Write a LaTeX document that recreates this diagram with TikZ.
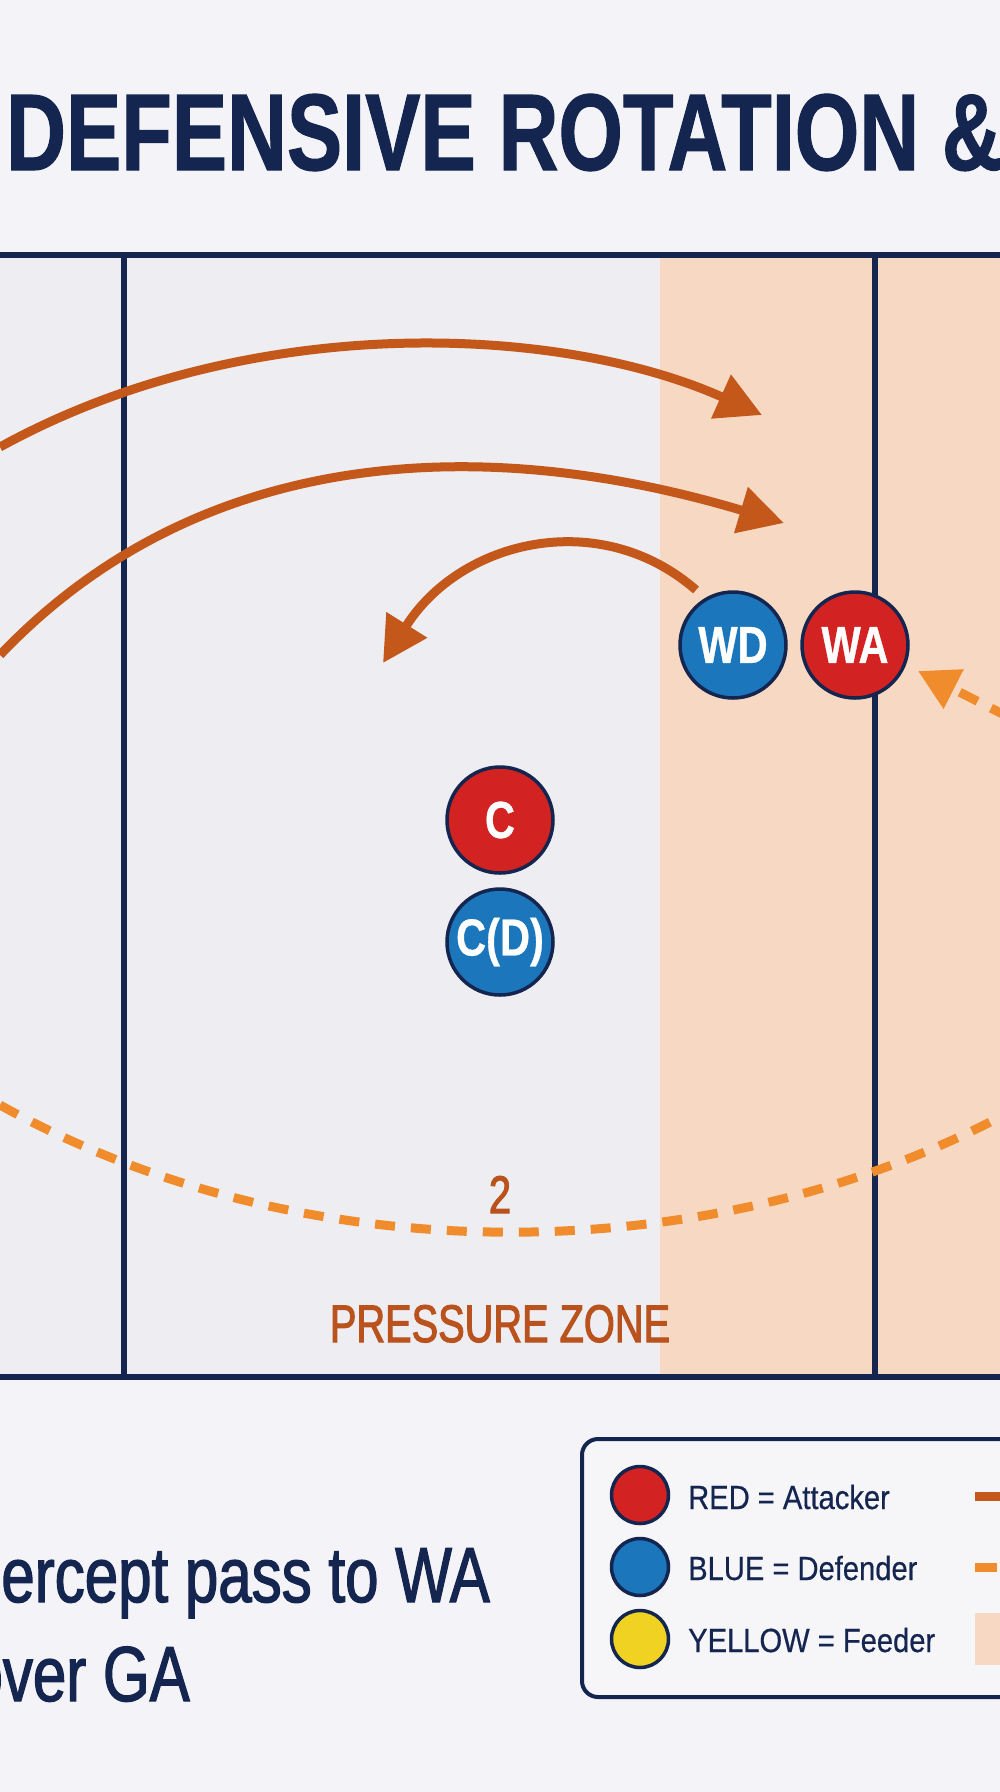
\documentclass[tikz,border=0pt]{standalone}
\usepackage{fontspec}
\setmainfont{Liberation Sans}
\newfontfamily\titlefont{Liberation Sans}[FakeStretch=0.76, FakeBold=1]
\newfontfamily\playerfont{Liberation Sans}[FakeStretch=0.8, FakeBold=0.6]
\newfontfamily\zonefont{Liberation Sans}[FakeStretch=0.75, FakeBold=2]
\newfontfamily\legendfont{Liberation Sans}[FakeStretch=0.87, FakeBold=0.5]
\newfontfamily\goalfont{Liberation Sans}[FakeStretch=0.77, FakeBold=1.6]
\usetikzlibrary{arrows.meta}
\definecolor{navy}{HTML}{14254F}
\definecolor{pagebg}{HTML}{F4F4F8}
\definecolor{courtbg}{HTML}{EDEDF2}
\definecolor{peach}{HTML}{F7D9C3}
\definecolor{pred}{HTML}{D32222}
\definecolor{pblue}{HTML}{1B76BB}
\definecolor{pyellow}{HTML}{F0D222}
\definecolor{movec}{HTML}{C4581A}
\definecolor{passc}{HTML}{F08C2C}
\definecolor{labelc}{HTML}{B9521C}
\definecolor{legendbg}{HTML}{F6F6F9}
\begin{document}
\begin{tikzpicture}[x=1pt,y=-1pt,
  courtline/.style={navy, line width=6pt},
  movearrow/.style={movec, line width=9pt, -{Triangle[length=45pt,width=46pt]}},
  passarrow/.style={passc, line width=9pt, dash pattern=on 20pt off 15pt, -{Triangle[length=40pt,width=42pt]}},
  passline/.style={passc, line width=9pt, dash pattern=on 20pt off 16pt},
  player/.style={circle, draw=navy, line width=3.5pt, minimum size=106pt, inner sep=0pt,
     text=white, font=\playerfont\bfseries\fontsize{52}{52}\selectfont},
  legdot/.style={circle, draw=navy, line width=3.5pt, minimum size=57pt, inner sep=0pt},
  legtext/.style={anchor=base west, inner sep=0pt, text=navy, font=\legendfont\fontsize{33.5}{36}\selectfont},
  goaltext/.style={anchor=base east, inner sep=0pt, text=navy, font=\goalfont\fontsize{78}{80}\selectfont}
]
\useasboundingbox (0,0) rectangle (1000,1792);
\clip (0,0) rectangle (1000,1792);
% backgrounds
\fill[pagebg] (0,0) rectangle (1000,1792);
\fill[courtbg] (-10,255) rectangle (1010,1377);
\fill[peach] (660,255) rectangle (1010,1377);
% court lines
\draw[courtline] (-10,255) -- (1010,255);
\draw[courtline] (-10,1377) -- (1010,1377);
\draw[courtline] (124,255) -- (124,1377);
\draw[courtline] (875,255) -- (875,1377);
% title
\node[anchor=base west, inner sep=0pt, text=navy, font=\titlefont\bfseries\fontsize{109}{110}\selectfont] (title) at (6,170) {DEFENSIVE ROTATION \&};
% movement arrows
\coordinate (a1s) at (0,447); \coordinate (a1e) at (762,415);
\coordinate (a2s) at (0,655); \coordinate (a2e) at (784,523);
\coordinate (a3s) at (696,590); \coordinate (a3e) at (383,663);
\draw[movearrow] (a1s) .. controls (250,309.5) and (562,325) .. (a1e);
\draw[movearrow] (a2s) .. controls (200,445) and (484,433) .. (a2e);
\draw[movearrow] (a3s) .. controls (600,506) and (460,540) .. (a3e);
% pass lines
\coordinate (p1s) at (1040,733); \coordinate (p1e) at (918,671);
\draw[passarrow] (p1s) -- (p1e);
\coordinate (p2s) at (0,1105); \coordinate (p2e) at (1000,1117);
\draw[passline] (p2s) .. controls (300,1272) and (700,1273) .. (p2e);
% labels
\node[anchor=base, inner sep=0pt, text=labelc, font=\zonefont\fontsize{53}{54}\selectfont] (two) at (500,1213) {2};
\node[anchor=base, inner sep=0pt, text=labelc, font=\zonefont\fontsize{53}{54}\selectfont] (zone) at (500,1342) {PRESSURE ZONE};
% players
\node[player, fill=pblue] (WD) at (733,645) {WD};
\node[player, fill=pred] (WA) at (855,645) {WA};
\node[player, fill=pred] (C) at (500,820) {C};
\node[player, fill=pblue] (CD) at (500,942) {C(D)};
% goal text
\node[goaltext] (goal1) at (490,1602) {ercept pass to WA};
\node[goaltext] (goal2) at (190,1701) {over GA};
% legend
\draw[navy, line width=4pt, rounded corners=16pt, fill=legendbg] (582,1439) rectangle (1040,1697);
\node[legdot, fill=pred] (lred) at (640,1495) {};
\node[legdot, fill=pblue] (lblue) at (640,1567) {};
\node[legdot, fill=pyellow] (lyellow) at (640,1639) {};
\node[legtext] (tred) at (688,1509) {RED = Attacker};
\node[legtext] (tblue) at (688,1580) {BLUE = Defender};
\node[legtext] (tyellow) at (688,1652) {YELLOW = Feeder};
\draw[movec, line width=9pt] (975,1496) -- (1010,1496);
\draw[passc, line width=9pt] (975,1567) -- (997,1567);
\fill[peach] (975,1613) rectangle (1010,1665);
\end{tikzpicture}
\end{document}
